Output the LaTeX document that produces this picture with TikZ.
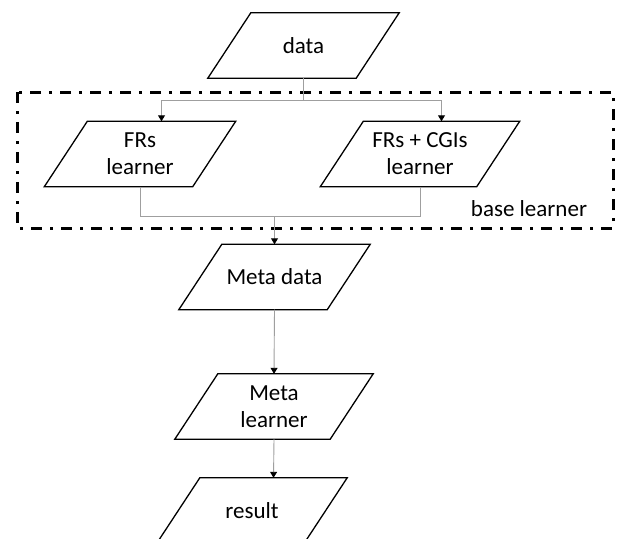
\documentclass[tikz,border=0pt]{standalone}
\usepackage{fontspec}
\setmainfont{Carlito}
\usetikzlibrary{arrows.meta}
\newcommand{\paraoutline}[1]{%
  \draw[paraline] ([xshift=21.5pt]#1.north west) -- ([xshift=21.5pt]#1.north east)
    -- ([xshift=-21.5pt]#1.south east) -- ([xshift=-21.5pt]#1.south west) -- cycle;}
\begin{document}
\begin{tikzpicture}[x=1pt,y=-1pt,
  para/.style={rectangle, minimum height=65pt, minimum width=148pt, align=center,
    font=\fontsize{23}{27}\selectfont, inner sep=0pt},
  paraline/.style={draw=black, line width=1.3pt, line join=miter},
  conn/.style={draw=gray!75, line width=0.9pt},
  arr/.style={conn, -{Triangle[length=6pt,width=7pt,color=black]}},
  group/.style={draw=black, line width=3pt, dash pattern=on 11pt off 8pt on 3pt off 8pt},
  lbl/.style={font=\fontsize{23}{27}\selectfont, inner sep=0pt}]
\useasboundingbox (0,0) rectangle (618,538);
\clip (0,0) rectangle (618,538);
\fill[white] (0,0) rectangle (618,538);
\draw[group] (17,92) rectangle (613,228);
\node[para] (data) at (303.5,45.5) {data};
\node[para] (frs) at (140,154) {FRs\\learner};
\node[para, minimum width=156pt] (cgi) at (420,154) {FRs + CGIs\\learner};
\node[para] (meta) at (274.5,277) {Meta data};
\node[para, minimum width=155pt] (ml) at (274,406.5) {Meta\\learner};
\node[para, minimum width=147pt] (res) at (252,510.5) {result};
\node[lbl] (bl) at (529,209) {base learner};
\paraoutline{data}
\paraoutline{frs}
\paraoutline{cgi}
\paraoutline{meta}
\paraoutline{ml}
\paraoutline{res}
\coordinate (split) at (303.5,100);
\coordinate (merge) at (274.5,216);
\draw[conn] (data.south) -- (split);
\draw[arr] (split) -| ([xshift=21.5pt]frs.north);
\draw[arr] (split) -| ([xshift=21.5pt]cgi.north);
\draw[conn] (frs.south) |- (merge);
\draw[conn] (cgi.south) |- (merge);
\draw[arr] (merge) -- (meta.north);
\draw[arr] (meta.south) -- (ml.north);
\draw[arr] (ml.south) -- ([xshift=21.5pt]res.north);
\end{tikzpicture}
\end{document}
